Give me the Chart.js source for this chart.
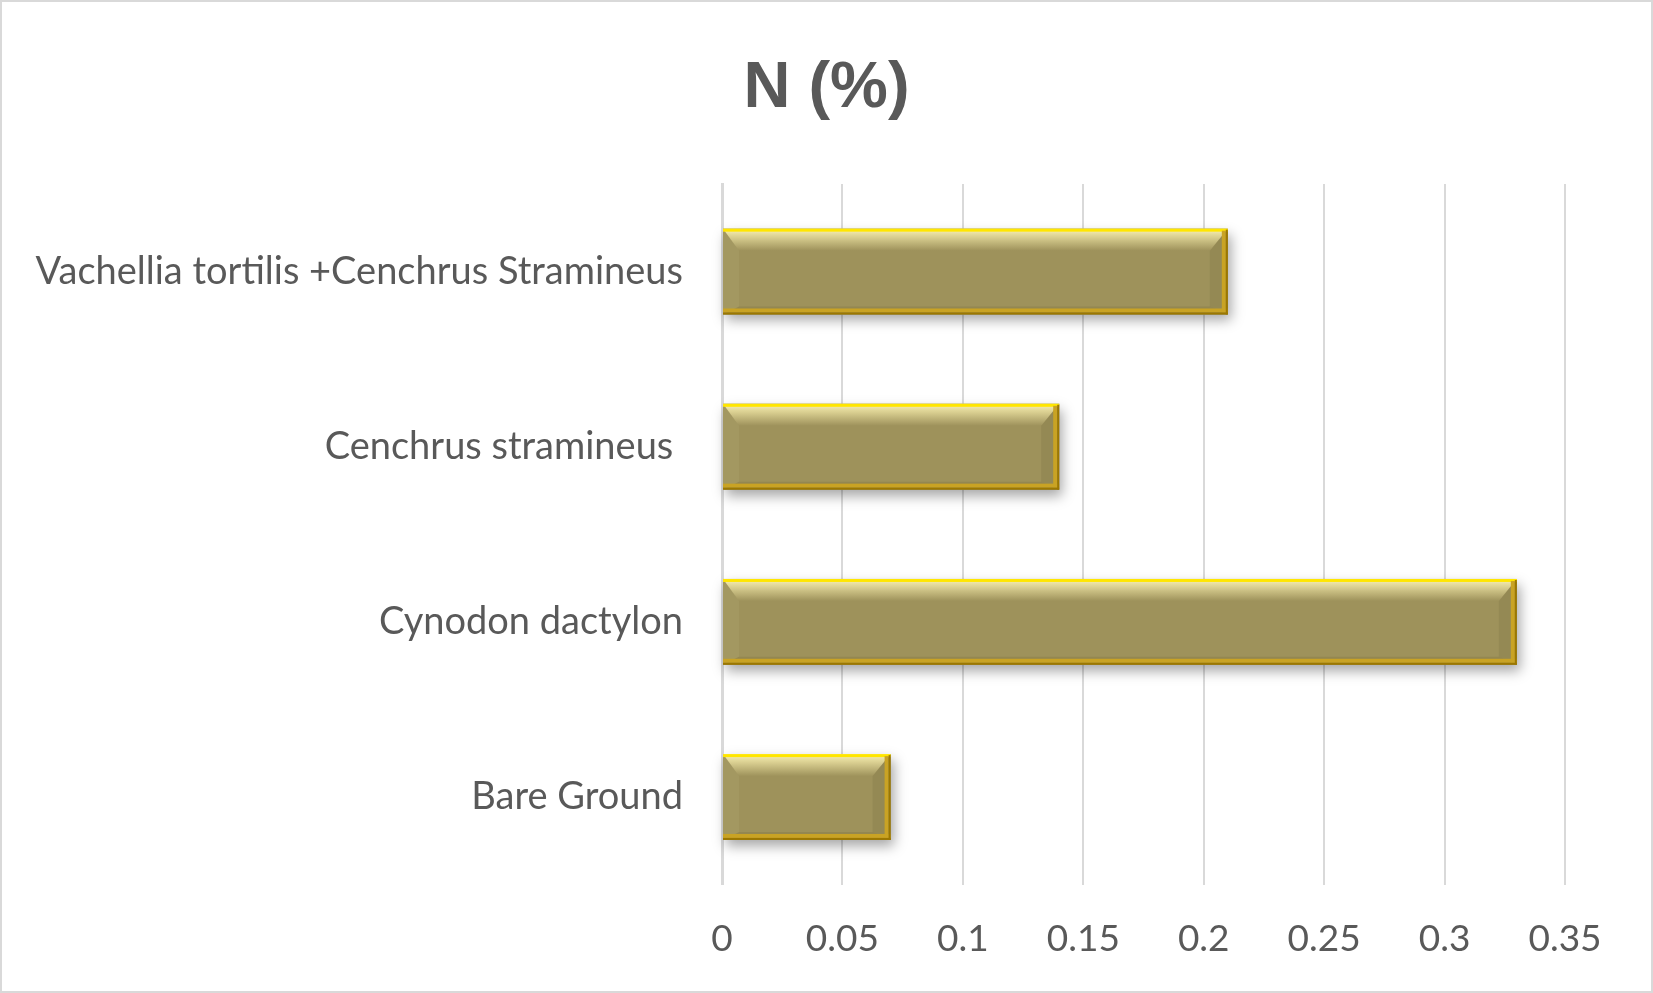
<!DOCTYPE html>
<html>
<head>
<meta charset="utf-8">
<title>N (%)</title>
<script src="https://cdn.jsdelivr.net/npm/chart.js@4.4.1/dist/chart.umd.min.js"></script>
<style>
  html, body { margin: 0; padding: 0; background: #fff; }
  #wrap { position: relative; width: 1653px; height: 993px; }
</style>
</head>
<body>
<div id="wrap"><canvas id="nChart"></canvas></div>
<script>
// Категории (сверху вниз) и значения
const categories = [
    'Vachellia tortilis +Cenchrus Stramineus',
    'Cenchrus stramineus ',
    'Cynodon dactylon',
    'Bare Ground'
];
const nValues = [0.21, 0.14, 0.33, 0.07];
const xTickLabels = ['0', '0.05', '0.1', '0.15', '0.2', '0.25', '0.3', '0.35'];
const chartTitle = 'N (%)';

const textColor = '#595959';
const gridColor = '#d9d9d9';
const fontFamily = 'Lato, "Liberation Sans", sans-serif';

// Рамка вокруг всей картинки
const framePlugin = {
    id: 'frame',
    beforeDraw(chart) {
        const ctx = chart.ctx;
        ctx.save();
        ctx.fillStyle = '#ffffff';
        ctx.fillRect(0, 0, chart.width, chart.height);
        ctx.strokeStyle = gridColor;
        ctx.lineWidth = 2;
        ctx.strokeRect(1, 1, chart.width - 2, chart.height - 2);
        ctx.restore();
    }
};

// Заголовок по центру всей картинки
const titlePlugin = {
    id: 'centerTitle',
    afterDraw(chart) {
        const ctx = chart.ctx;
        ctx.save();
        ctx.fillStyle = textColor;
        ctx.font = 'bold 65px "Liberation Sans", sans-serif';
        ctx.textAlign = 'center';
        ctx.textBaseline = 'alphabetic';
        ctx.fillText(chartTitle, chart.width / 2, 107);
        ctx.restore();
    }
};

function barRect(el) {
    const p = el.getProps(['x', 'y', 'base', 'height'], true);
    return {
        l: Math.min(p.x, p.base),
        r: Math.max(p.x, p.base),
        t: p.y - p.height / 2,
        b: p.y + p.height / 2
    };
}

// Тень под столбцами
const shadowPlugin = {
    id: 'barShadow',
    beforeDatasetsDraw(chart) {
        const ctx = chart.ctx;
        chart.getDatasetMeta(0).data.forEach(el => {
            const r = barRect(el);
            ctx.save();
            ctx.shadowColor = 'rgba(0,0,0,0.35)';
            ctx.shadowBlur = 12;
            ctx.shadowOffsetX = 3;
            ctx.shadowOffsetY = 6;
            ctx.fillStyle = '#9e925b';
            ctx.fillRect(r.l, r.t, r.r - r.l, r.b - r.t);
            ctx.restore();
        });
    }
};

// Эффект фаски (bevel) как в Excel
function poly(ctx, pts, fill) {
    ctx.beginPath();
    ctx.moveTo(pts[0][0], pts[0][1]);
    for (let i = 1; i < pts.length; i++) ctx.lineTo(pts[i][0], pts[i][1]);
    ctx.closePath();
    ctx.fillStyle = fill;
    ctx.fill();
}

const bevelPlugin = {
    id: 'bevel',
    afterDatasetsDraw(chart) {
        const ctx = chart.ctx;
        chart.getDatasetMeta(0).data.forEach(el => {
            const { l, r, t, b } = barRect(el);
            const bt = 22, br = 18, bb = 8, bl = 16;
            ctx.save();
            // верхняя светлая полоса
            const g = ctx.createLinearGradient(0, t, 0, t + bt);
            g.addColorStop(0, 'rgba(252,245,185,1)');
            g.addColorStop(0.4, 'rgba(240,230,165,0.7)');
            g.addColorStop(1, 'rgba(240,230,165,0)');
            poly(ctx, [[l, t], [r, t], [r - br, t + bt], [l + bl, t + bt]], g);
            // правая полоса
            poly(ctx, [[r, t], [r, b], [r - br, b - bb], [r - br, t + bt]], 'rgba(70,60,25,0.10)');
            // нижняя полоса
            poly(ctx, [[l, b], [r, b], [r - br, b - bb], [l + bl, b - bb]], 'rgba(70,60,25,0.12)');
            // левая полоса
            poly(ctx, [[l, t], [l + bl, t + bt], [l + bl, b - bb], [l, b]], 'rgba(255,250,210,0.06)');
            // края
            ctx.fillStyle = '#ffe600';
            ctx.fillRect(l, t, r - l, 3);
            ctx.fillStyle = '#c9a324';
            ctx.fillRect(l, b - 6, r - l, 4);
            ctx.fillRect(r - 6, t + 2, 4, b - t - 4);
            ctx.fillStyle = '#9c7800';
            ctx.fillRect(l, b - 2, r - l, 2);
            ctx.fillRect(r - 2, t + 1, 2, b - t - 1);
            ctx.restore();
        });
    }
};

const data = {
    labels: categories,
    datasets: [{
        label: chartTitle,
        data: nValues,
        backgroundColor: '#9e925b',
        borderWidth: 0,
        barPercentage: 0.49,
        categoryPercentage: 1.0
    }]
};

const options = {
    indexAxis: 'y',
    responsive: true,
    maintainAspectRatio: false,
    animation: false,
    layout: {
        padding: { top: 184, right: 88, bottom: 0, left: 0 }
    },
    plugins: {
        legend: { display: false },
        tooltip: { enabled: false },
        title: { display: false }
    },
    scales: {
        x: {
            min: 0,
            max: 0.35,
            ticks: {
                stepSize: 0.05,
                color: textColor,
                padding: 32,
                font: { family: fontFamily, size: 37, lineHeight: 1.2 },
                callback: (v, i) => xTickLabels[i]
            },
            grid: {
                color: gridColor,
                lineWidth: 2,
                drawTicks: false
            },
            border: { display: false }
        },
        y: {
            ticks: {
                color: textColor,
                padding: 39,
                font: { family: fontFamily, size: 38, lineHeight: 1.2 }
            },
            grid: { display: false, drawTicks: false },
            border: { display: true, color: gridColor, width: 3 },
            afterFit(scale) { scale.width = 722; }
        }
    }
};

window.onload = function() {
    const ctx = document.getElementById('nChart').getContext('2d');
    const nChart = new Chart(ctx, {
        type: 'bar',
        data: data,
        options: options,
        plugins: [framePlugin, shadowPlugin, bevelPlugin, titlePlugin]
    });
};
</script>
</body>
</html>
